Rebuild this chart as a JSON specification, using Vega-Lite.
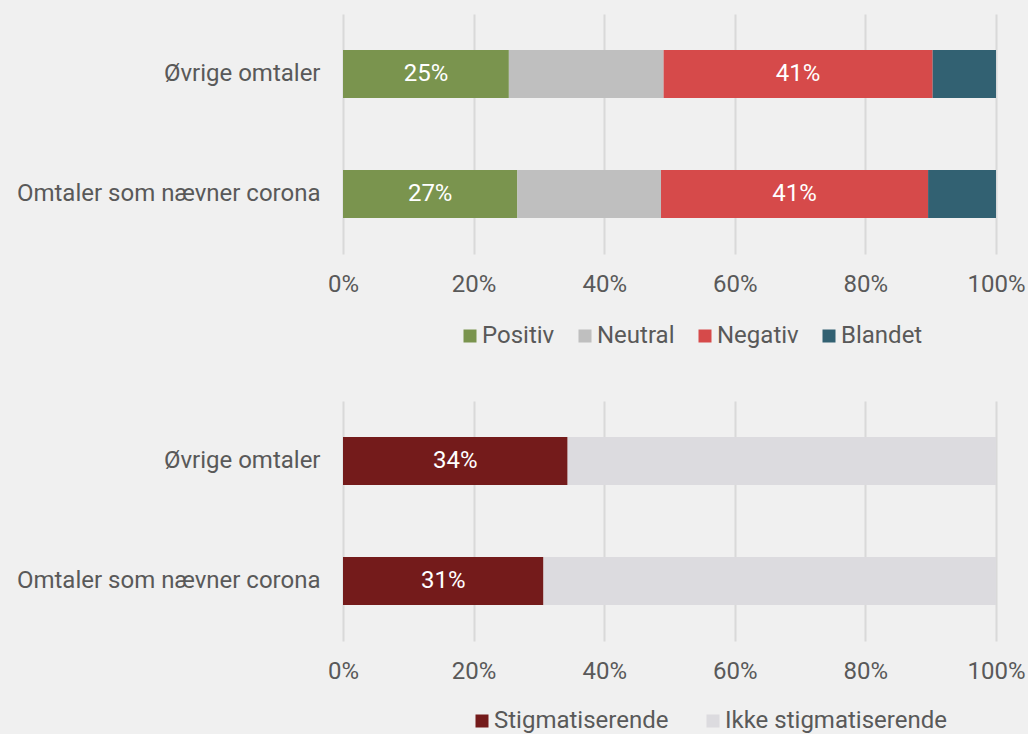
{
  "$schema": "https://vega.github.io/schema/vega-lite/v6.json",
  "background": "#f0f0f0",
  "padding": {"left": 16, "top": 14, "right": 5, "bottom": 5},
  "spacing": 53,
  "resolve": {"scale": {"color": "independent"}, "legend": {"color": "independent"}},
  "config": {
    "font": "Roboto",
    "view": {"stroke": null},
    "axis": {"labelFont": "Roboto", "labelColor": "#595959", "labelFontSize": 24, "ticks": false, "domain": false, "title": null, "labelLimit": 0},
    "legend": {"labelFont": "Roboto", "labelColor": "#595959", "labelFontSize": 24, "symbolType": "square", "symbolSize": 169, "symbolStrokeWidth": 0, "labelOffset": 0, "title": null, "direction": "horizontal", "orient": "none", "labelLimit": 0}
  },
  "vconcat": [
    {
      "width": 653,
      "height": 240,
      "data": {"values": [
        {"cat": "Øvrige omtaler", "type": "Positiv", "value": 0.254},
        {"cat": "Øvrige omtaler", "type": "Neutral", "value": 0.237},
        {"cat": "Øvrige omtaler", "type": "Negativ", "value": 0.412},
        {"cat": "Øvrige omtaler", "type": "Blandet", "value": 0.097},
        {"cat": "Omtaler som nævner corona", "type": "Positiv", "value": 0.267},
        {"cat": "Omtaler som nævner corona", "type": "Neutral", "value": 0.220},
        {"cat": "Omtaler som nævner corona", "type": "Negativ", "value": 0.409},
        {"cat": "Omtaler som nævner corona", "type": "Blandet", "value": 0.104}
      ]},
      "transform": [
        {"stack": "value", "groupby": ["cat"], "sort": [{"field": "type", "order": "descending"}], "as": ["x0", "x1"]},
        {"calculate": "(datum.x0 + datum.x1) / 2", "as": "mid"}
      ],
      "encoding": {
        "y": {"field": "cat", "type": "nominal", "sort": ["Øvrige omtaler", "Omtaler som nævner corona"],
              "scale": {"paddingInner": 0.6, "paddingOuter": 0.3},
              "axis": {"labelPadding": 23, "labelExpr": "datum.label == 'Øvrige omtaler' ? 'Øvrige omtaler\u00a0' : datum.label"}}
      },
      "layer": [
        {
          "mark": {"type": "bar"},
          "encoding": {
            "x": {"field": "x0", "type": "quantitative", "scale": {"domain": [0, 1], "nice": false},
                  "axis": {"format": ".0%", "values": [0, 0.2, 0.4, 0.6, 0.8, 1], "gridColor": "#d9d9d9", "gridWidth": 2, "labelPadding": 18, "labelFlush": false}},
            "x2": {"field": "x1"},
            "color": {"field": "type", "type": "nominal",
                      "scale": {"domain": ["Positiv", "Neutral", "Negativ", "Blandet"], "range": ["#7a944e", "#bfbfbf", "#d64a4a", "#326172"]},
                      "legend": {"legendX": 115, "legendY": 310, "columnPadding": 18}}
          }
        },
        {
          "transform": [{"filter": "datum.type === 'Positiv' || datum.type === 'Negativ'"}],
          "mark": {"type": "text", "color": "white", "fontSize": 24, "font": "Roboto"},
          "encoding": {
            "x": {"field": "mid", "type": "quantitative"},
            "text": {"field": "value", "type": "quantitative", "format": ".0%"}
          }
        }
      ]
    },
    {
      "width": 653,
      "height": 240,
      "data": {"values": [
        {"cat": "Øvrige omtaler", "type": "Stigmatiserende", "value": 0.344},
        {"cat": "Øvrige omtaler", "type": "Ikke stigmatiserende", "value": 0.656},
        {"cat": "Omtaler som nævner corona", "type": "Stigmatiserende", "value": 0.307},
        {"cat": "Omtaler som nævner corona", "type": "Ikke stigmatiserende", "value": 0.693}
      ]},
      "transform": [
        {"stack": "value", "groupby": ["cat"], "sort": [{"field": "type", "order": "descending"}], "as": ["x0", "x1"]},
        {"calculate": "(datum.x0 + datum.x1) / 2", "as": "mid"}
      ],
      "encoding": {
        "y": {"field": "cat", "type": "nominal", "sort": ["Øvrige omtaler", "Omtaler som nævner corona"],
              "scale": {"paddingInner": 0.6, "paddingOuter": 0.3},
              "axis": {"labelPadding": 23, "labelExpr": "datum.label == 'Øvrige omtaler' ? 'Øvrige omtaler\u00a0' : datum.label"}}
      },
      "layer": [
        {
          "mark": {"type": "bar"},
          "encoding": {
            "x": {"field": "x0", "type": "quantitative", "scale": {"domain": [0, 1], "nice": false},
                  "axis": {"format": ".0%", "values": [0, 0.2, 0.4, 0.6, 0.8, 1], "gridColor": "#d9d9d9", "gridWidth": 2, "labelPadding": 18, "labelFlush": false}},
            "x2": {"field": "x1"},
            "color": {"field": "type", "type": "nominal",
                      "scale": {"domain": ["Stigmatiserende", "Ikke stigmatiserende"], "range": ["#741b1b", "#dcdbdf"]},
                      "legend": {"legendX": 127, "legendY": 308, "columnPadding": 32}}
          }
        },
        {
          "transform": [{"filter": "datum.type === 'Stigmatiserende'"}],
          "mark": {"type": "text", "color": "white", "fontSize": 24, "font": "Roboto"},
          "encoding": {
            "x": {"field": "mid", "type": "quantitative"},
            "text": {"field": "value", "type": "quantitative", "format": ".0%"}
          }
        }
      ]
    }
  ]
}
